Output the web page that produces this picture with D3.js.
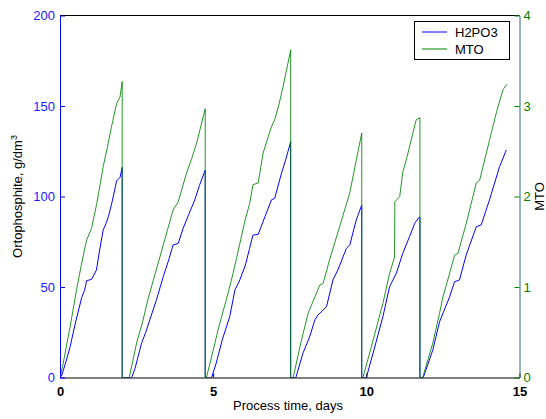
<!DOCTYPE html>
<html>
<head>
<meta charset="utf-8">
<script src="https://cdn.jsdelivr.net/npm/d3@7"></script>
<style>
  html, body { margin: 0; padding: 0; background: #fff; }
  svg { display: block; font-family: "Liberation Sans", Arial, sans-serif; }
</style>
</head>
<body>
<svg id="chart" width="546" height="419"></svg>
<script>
// ---- data ----
const h2po3Time = [0, 0.05, 0.2, 0.33, 0.5, 0.71, 0.8, 0.87, 1.03, 1.19, 1.3, 1.41, 1.5, 1.58, 1.7, 1.85, 1.96, 2.03, 2.03, 2.34,
  2.45, 2.66, 2.8, 2.93, 3.15, 3.37, 3.55, 3.69, 3.86, 4.02, 4.2, 4.4, 4.55, 4.74, 4.74, 4.95,
  5.1, 5.3, 5.54, 5.71, 5.87, 6.05, 6.19, 6.3, 6.47, 6.69, 6.9, 7.01, 7.23, 7.38, 7.53, 7.53, 7.7,
  7.93, 8.15, 8.32, 8.42, 8.7, 8.91, 9.07, 9.35, 9.46, 9.67, 9.85, 9.85, 10.0,
  10.22, 10.54, 10.76, 10.98, 11.19, 11.41, 11.58, 11.72, 11.75, 11.75, 11.86,
  12.17, 12.39, 12.72, 12.88, 13.04, 13.26, 13.59, 13.75, 14.02, 14.35, 14.57];
const h2po3Values = [0, 0.8, 9, 17, 30, 44.3, 48, 53.5, 54.2, 59.4, 71, 81.5, 85, 88.8, 97, 108.7, 110.6, 116.1, 0, 0,
  5, 18.9, 25, 31.8, 43, 55.7, 65, 73.2, 74.1, 82.4, 90, 98.1, 106, 114.6, 0, 0,
  8, 21, 33.6, 48.3, 53.9, 62, 71.4, 78.7, 79.1, 88.8, 98.1, 99, 112.8, 121, 130.3, 0, 0,
  13.4, 22.5, 31.8, 34.5, 39.1, 53.9, 59.4, 71.4, 73.2, 87, 95.3, 0, 0,
  13.4, 33.6, 50.2, 57.6, 68.6, 77.8, 85.2, 88.5, 88.7, 0, 0,
  15.2, 30.8, 44.6, 52.9, 53.9, 67.7, 83.3, 84.3, 98.1, 116.5, 125.7];

const mtoTime = [0, 0.1, 0.33, 0.54, 0.7, 0.87, 1.03, 1.2, 1.41, 1.55, 1.68, 1.85, 1.96, 2.03, 2.03, 2.26,
  2.5, 2.7, 2.88, 3.05, 3.26, 3.5, 3.69, 3.86, 4.13, 4.3, 4.46, 4.6, 4.74, 4.74, 4.78,
  5.0, 5.2, 5.43, 5.65, 5.87, 6.05, 6.19, 6.3, 6.47, 6.63, 6.9, 7.01, 7.15, 7.28, 7.44, 7.53, 7.53, 7.61,
  7.88, 8.1, 8.32, 8.48, 8.59, 8.8, 9.13, 9.46, 9.67, 9.85, 9.85, 9.89,
  10.22, 10.54, 10.76, 10.92, 10.93, 11.09, 11.19, 11.3, 11.52, 11.63, 11.75, 11.75, 11.84,
  12.17, 12.39, 12.5, 12.61, 12.88, 12.99, 13.26, 13.59, 13.7, 14.02, 14.24, 14.46, 14.59];
const mtoValues = [0, 0.15, 0.56, 0.97, 1.25, 1.52, 1.65, 1.92, 2.33, 2.55, 2.77, 3.03, 3.10, 3.27, 0, 0,
  0.38, 0.62, 0.875, 1.08, 1.33, 1.62, 1.85, 1.94, 2.26, 2.42, 2.59, 2.78, 2.97, 0, 0,
  0.3, 0.58, 0.86, 1.15, 1.48, 1.75, 1.92, 2.13, 2.15, 2.48, 2.77, 2.85, 3.02, 3.21, 3.47, 3.62, 0, 0,
  0.41, 0.71, 0.89, 1.02, 1.04, 1.30, 1.67, 2.04, 2.40, 2.70, 0, 0,
  0.41, 0.82, 1.15, 1.33, 1.94, 2.0, 2.27, 2.40, 2.70, 2.85, 2.87, 0, 0,
  0.38, 0.71, 0.89, 1.02, 1.35, 1.37, 1.70, 2.15, 2.18, 2.62, 2.92, 3.18, 3.24];

const xTicks = [0, 5, 10, 15];
const leftTicks = [0, 50, 100, 150, 200];
const rightTicks = [0, 1, 2, 3, 4];
const seriesNames = ["H2PO3", "MTO"];
const seriesColors = ["#0000ff", "#008000"];

// ---- layout ----
const svg = d3.select("#chart");
const L = 60, R = 519.5, T = 15.5, B = 377.5;
const x = d3.scaleLinear().domain([0, 15]).range([L, R]);
const yL = d3.scaleLinear().domain([0, 200]).range([B, T]);
const yR = d3.scaleLinear().domain([0, 4]).range([B, T]);

svg.append("defs").append("clipPath").attr("id", "clip")
  .append("rect").attr("x", L).attr("y", T - 1).attr("width", R - L).attr("height", B - T + 1);

// frame
svg.append("line").attr("x1", L).attr("x2", R).attr("y1", T).attr("y2", T).attr("stroke", "#000").attr("stroke-width", 1);

// lines
const g = svg.append("g").attr("clip-path", "url(#clip)");
const blueData = h2po3Time.map((t, i) => [t, h2po3Values[i]]);
const greenData = mtoTime.map((t, i) => [t, mtoValues[i]]);
g.append("path").datum(blueData)
  .attr("fill", "none").attr("stroke", seriesColors[0]).attr("stroke-width", 1)
  .attr("d", d3.line().x(d => x(d[0])).y(d => yL(d[1])));
g.append("path").datum(greenData)
  .attr("fill", "none").attr("stroke", seriesColors[1]).attr("stroke-width", 1).attr("stroke-opacity", 0.85)
  .attr("d", d3.line().x(d => x(d[0])).y(d => yR(d[1])));

// bottom axis
const xAxis = svg.append("g").attr("transform", `translate(0,${B})`)
  .call(d3.axisBottom(x).tickValues(xTicks).tickSizeInner(-4).tickSizeOuter(0).tickPadding(9).tickFormat(d3.format("d")));
xAxis.select(".domain").attr("stroke", "#000");
xAxis.selectAll(".tick line").attr("stroke", "#000");
xAxis.selectAll("text").attr("fill", "#000").attr("font-size", 13).attr("font-weight", "bold").attr("font-family", "Liberation Sans, Arial, sans-serif");

// left axis
const lAxis = svg.append("g").attr("transform", `translate(${L},0)`)
  .call(d3.axisLeft(yL).tickValues(leftTicks).tickSizeInner(-5).tickSizeOuter(0).tickPadding(5).tickFormat(d3.format("d")));
lAxis.select(".domain").attr("stroke", "#0000ff");
lAxis.selectAll(".tick line").attr("stroke", "#0000ff");
lAxis.selectAll("text").attr("fill", "#2020ff").attr("font-size", 13).attr("font-family", "Liberation Sans, Arial, sans-serif");

// right axis
const rAxis = svg.append("g").attr("transform", `translate(${R},0)`)
  .call(d3.axisRight(yR).tickValues(rightTicks).tickSizeInner(-5).tickSizeOuter(0).tickPadding(4).tickFormat(d3.format("d")));
rAxis.select(".domain").attr("stroke", "#2a6a8a");
rAxis.selectAll(".tick line").attr("stroke", "#008000");
rAxis.selectAll("text").attr("fill", "#008000").attr("font-size", 13).attr("font-family", "Liberation Sans, Arial, sans-serif");

// axis titles
svg.append("text").attr("x", 288).attr("y", 410).attr("text-anchor", "middle")
  .attr("font-size", 13).attr("fill", "#000").text("Process time, days");
const ylab = svg.append("text").attr("transform", `translate(22,${(T + B) / 2}) rotate(-90)`)
  .attr("text-anchor", "middle").attr("font-size", 13).attr("fill", "#000");
ylab.append("tspan").text("Ortophosphite, g/dm");
ylab.append("tspan").attr("font-size", 9).attr("dy", -5).text("3");
svg.append("text").attr("transform", `translate(543.5,${(T + B) / 2}) rotate(-90)`)
  .attr("text-anchor", "middle").attr("font-size", 13).attr("fill", "#000").text("MTO");

// legend
const lg = svg.append("g");
lg.append("rect").attr("x", 414.5).attr("y", 21.5).attr("width", 95).attr("height", 38)
  .attr("fill", "#fff").attr("stroke", "#000").attr("stroke-width", 1);
seriesNames.forEach((name, i) => {
  const yy = 32 + i * 17;
  lg.append("line").attr("x1", 422).attr("x2", 447).attr("y1", yy).attr("y2", yy)
    .attr("stroke", seriesColors[i]).attr("stroke-width", 1);
  lg.append("text").attr("x", 455).attr("y", yy + 5).attr("font-size", 13).attr("fill", "#000").text(name);
});
</script>
</body>
</html>
